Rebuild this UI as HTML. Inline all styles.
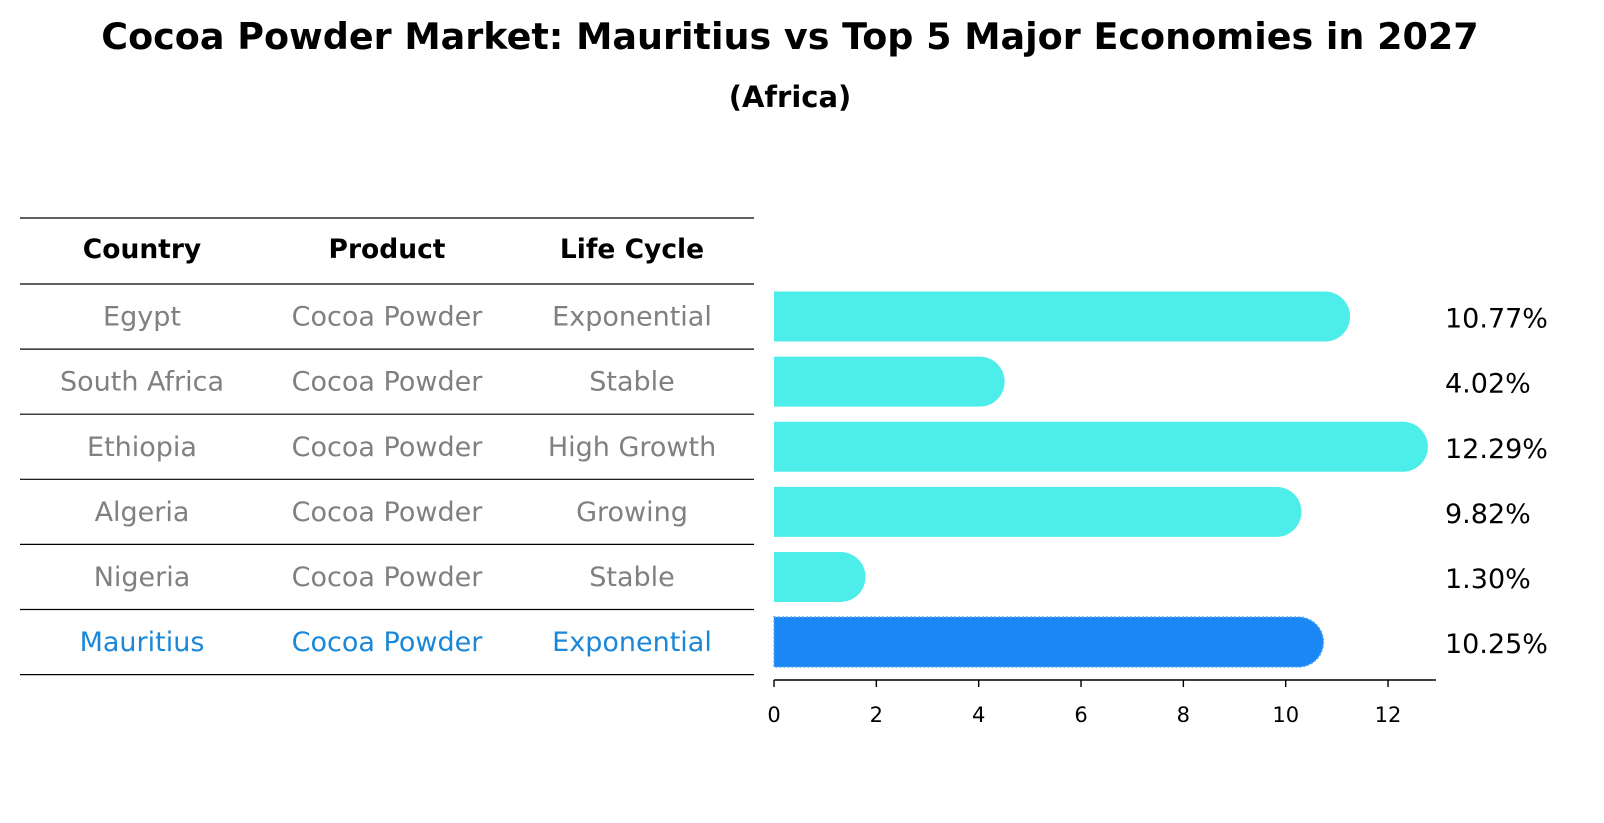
<!DOCTYPE html>
<html><head><meta charset="utf-8"><style>
body{margin:0;background:#fff;}
svg{display:block;font-family:"DejaVu Sans","Liberation Sans",sans-serif;}
</style></head><body>
<svg id="c" width="1604" height="823" viewBox="0 0 1604 823">
<text x="790" y="49" text-anchor="middle" font-size="36.5" font-weight="bold">Cocoa Powder Market: Mauritius vs Top 5 Major Economies in 2027</text>
<text x="790" y="107" text-anchor="middle" font-size="29" font-weight="bold">(Africa)</text>
<g id="tbl"></g>
<g id="bars"></g>
</svg>
<script>
const countries=["Egypt","South Africa","Ethiopia","Algeria","Nigeria","Mauritius"];
const products=["Cocoa Powder","Cocoa Powder","Cocoa Powder","Cocoa Powder","Cocoa Powder","Cocoa Powder"];
const lifeCycles=["Exponential","Stable","High Growth","Growing","Stable","Exponential"];
const values=[10.77,4.02,12.29,9.82,1.30,10.25];
const valueLabels=["10.77%","4.02%","12.29%","9.82%","1.30%","10.25%"];
const ticks=[0,2,4,6,8,10,12];
const highlight="Mauritius";

const NS="http://www.w3.org/2000/svg";
function mk(tag,attrs,parent,txt){const e=document.createElementNS(NS,tag);for(const k in attrs)e.setAttribute(k,attrs[k]);if(txt!==undefined)e.textContent=txt;parent.appendChild(e);return e;}
const tbl=document.getElementById('tbl'),bars=document.getElementById('bars');
const x0=774,pxPer=51.17;
const xs=v=>x0+v*pxPer;
const rowTop=284,rowH=65.1;
const rowY=i=>rowTop+rowH*i+rowH/2;
const colX=[142,387,632];
const hdr=["Country","Product","Life Cycle"];
hdr.forEach((h,j)=>{const t=mk('text',{x:colX[j],y:258,'text-anchor':'middle','font-size':26.5,'font-weight':'bold'},tbl,h);

});
const hl=mk('line',{x1:20,x2:754,y1:218,y2:218,stroke:'#000','stroke-width':1.2},tbl);


for(let i=0;i<=countries.length;i++){
  const l=mk('line',{x1:20,x2:754,y1:rowTop+rowH*i,y2:rowTop+rowH*i,stroke:'#000','stroke-width':1.2},tbl);
  
  
}
countries.forEach((c,i)=>{
  const col=c===highlight?'#1a87d9':'#808080';
  [c,products[i],lifeCycles[i]].forEach((v,j)=>{
    const t=mk('text',{x:colX[j],y:rowY(i)+9,'text-anchor':'middle','font-size':27,fill:col},tbl,v);
    
    
  });
  const h=50,y=rowY(i)-h/2,r=25,xe=xs(values[i]);
  const p=mk('path',{d:`M${x0},${y}H${xe}A${r},${r} 0 0 1 ${xe},${y+h}H${x0}Z`,fill:c===highlight?'#1a87f5':'#4dede9'},bars);
  if(c===highlight){p.setAttribute('stroke','#5aa8f5');p.setAttribute('stroke-dasharray','2 2');p.setAttribute('stroke-width','1.5');}
  
  
  const vl=mk('text',{x:1445,y:rowY(i)+11,'font-size':27},bars,valueLabels[i]);
  
  
});
const ax=mk('line',{x1:x0,x2:1436,y1:680,y2:680,stroke:'#000','stroke-width':1.6},bars);


ticks.forEach(t=>{
  const tl=mk('line',{x1:xs(t),x2:xs(t),y1:680,y2:687,stroke:'#000','stroke-width':1.4},bars);
  
  
  const tx=mk('text',{x:xs(t),y:722,'text-anchor':'middle','font-size':21},bars,String(t));
  
  
});
</script>
</body></html>
